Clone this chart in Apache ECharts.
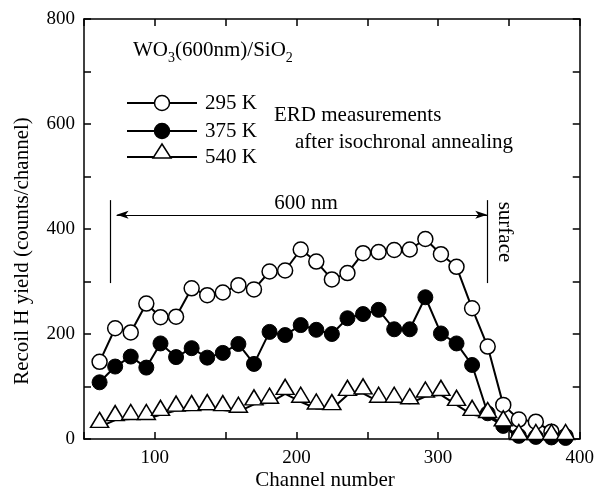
<!DOCTYPE html>
<html>
<head>
<meta charset="utf-8">
<script src="https://cdn.jsdelivr.net/npm/echarts@6.0.0/dist/echarts.min.js"></script>
<style>
  html, body { margin: 0; padding: 0; background: #fff; }
  #chart { width: 597px; height: 489px; }
</style>
</head>
<body>
<div id="chart"></div>
<script>
// Channel positions of the ERD spectrum points
const channels = [61, 72, 83, 94, 104, 115, 126, 137, 148, 159, 170, 181, 192, 203, 214, 225,
                  236, 247, 258, 269, 280, 291, 302, 313, 324, 335, 346, 357, 369, 380, 390];
// Recoil H yield (counts/channel) after annealing at each temperature
const yield295K = [147, 211, 203, 258, 232, 233, 287, 274, 279, 293, 285, 319, 321, 361, 338, 304,
                   316, 354, 356, 360, 361, 381, 352, 328, 249, 176, 65, 37, 33, 14, 5];
const yield375K = [108, 138, 157, 136, 182, 156, 173, 155, 164, 181, 143, 204, 198, 217, 208, 200,
                   230, 238, 246, 209, 209, 270, 201, 182, 141, 49, 25, 6, 4, 3, 2];
const yield540K = [23, 36, 38, 38, 46, 54, 55, 57, 55, 52, 66, 69, 86, 71, 58, 57,
                   84, 87, 71, 71, 68, 81, 84, 65, 46, 42, 26, 0, 0, 0, 0];
const seriesNames = ['295 K', '375 K', '540 K'];
const xTickLabels = [100, 200, 300, 400];
const yTickLabels = [0, 200, 400, 600, 800];
// Film thickness marker: surface and 600 nm depth
const depthEdges = [68.2, 334.7];
const depthArrowEnds = [73, 334.7];

const FONT = 'Liberation Serif';
const pairs = arr => channels.map((c, i) => [c, arr[i]]);

const axisLine = { onZero: false, lineStyle: { color: '#000', width: 1.5 } };
const axisTick = { inside: true, length: 7, lineStyle: { color: '#000', width: 1.5 } };

function xAxisDef(pos, withLabels) {
  return {
    type: 'value', position: pos, min: 50, max: 400, interval: 50,
    axisLine, axisTick,
    axisLabel: {
      show: withLabels, margin: 10, color: '#000', fontFamily: FONT, fontSize: 19,
      formatter: v => (xTickLabels.includes(v) ? String(v) : '')
    },
    splitLine: { show: false }
  };
}
function yAxisDef(pos, withLabels) {
  return {
    type: 'value', position: pos, min: 0, max: 800, interval: 100,
    axisLine, axisTick,
    axisLabel: {
      show: withLabels, margin: 9, color: '#000', fontFamily: FONT, fontSize: 19,
      formatter: v => (yTickLabels.includes(v) ? String(v) : '')
    },
    splitLine: { show: false }
  };
}

const lineBase = {
  type: 'line', silent: true, z: 3,
  lineStyle: { color: '#000', width: 2 },
  emphasis: { disabled: true }
};

const series = [
  Object.assign({}, lineBase, {
    name: seriesNames[0], data: pairs(yield295K),
    symbol: 'circle', symbolSize: 15,
    itemStyle: { color: '#fff', borderColor: '#000', borderWidth: 1.5 }
  }),
  Object.assign({}, lineBase, {
    name: seriesNames[1], data: pairs(yield375K),
    symbol: 'circle', symbolSize: 15,
    itemStyle: { color: '#000', borderColor: '#000', borderWidth: 1 }
  }),
  Object.assign({}, lineBase, {
    name: seriesNames[2], data: pairs(yield540K),
    symbol: 'triangle', symbolSize: [18, 15], symbolOffset: [0, -7],
    itemStyle: { color: '#fff', borderColor: '#000', borderWidth: 1.5 }
  }),
  {
    type: 'line', data: [], silent: true,
    markLine: {
      silent: true, symbol: 'none', animation: false,
      label: { show: false },
      lineStyle: { color: '#000', width: 1.2, type: 'solid' },
      data: depthEdges.map(ch => [{ coord: [ch, 297] }, { coord: [ch, 455] }])
    }
  },
  {
    type: 'line', data: [], silent: true,
    markLine: {
      silent: true, symbol: ['arrow', 'arrow'], symbolSize: [6, 12], animation: false,
      label: { show: false },
      lineStyle: { color: '#000', width: 1.2, type: 'solid' },
      data: [[{ coord: [depthArrowEnds[0], 427] }, { coord: [depthArrowEnds[1], 427] }]]
    }
  }
];

// Legend swatches: line with the series symbol in the middle
const legendRowsY = [103, 131, 157];
const legendGraphics = [];
legendRowsY.forEach((y, i) => {
  legendGraphics.push({
    type: 'line', shape: { x1: 127, y1: y, x2: 197, y2: y },
    style: { stroke: '#000', lineWidth: 2 }
  });
  if (i < 2) {
    legendGraphics.push({
      type: 'circle', shape: { cx: 162, cy: y, r: 7.5 },
      style: { fill: i === 0 ? '#fff' : '#000', stroke: '#000', lineWidth: 1.5 }
    });
  } else {
    legendGraphics.push({
      type: 'polygon', shape: { points: [[162, y - 13], [171, y + 1], [153, y + 1]] },
      style: { fill: '#fff', stroke: '#000', lineWidth: 1.5 }
    });
  }
  legendGraphics.push({
    type: 'text', x: 205, y: y,
    style: { text: seriesNames[i], fontFamily: FONT, fontSize: 21, fill: '#000',
             align: 'left', verticalAlign: 'middle' }
  });
});

const textStyle = (text, extra) => Object.assign(
  { text, fontFamily: FONT, fontSize: 21, fill: '#000', align: 'left', verticalAlign: 'middle' },
  extra || {}
);

const annotations = [
  {
    type: 'text', x: 133, y: 50,
    style: textStyle('{n|WO}{s|3}{n|(600nm)/SiO}{s|2}', {
      rich: {
        n: { fontFamily: FONT, fontSize: 21, lineHeight: 30, verticalAlign: 'middle', fill: '#000' },
        s: { fontFamily: FONT, fontSize: 14, lineHeight: 16, verticalAlign: 'bottom', fill: '#000' }
      }
    })
  },
  { type: 'text', x: 274, y: 115, style: textStyle('ERD measurements') },
  { type: 'text', x: 295, y: 142, style: textStyle('after isochronal annealing') },
  { type: 'text', x: 306, y: 203, style: textStyle('600 nm', { align: 'center' }) },
  { type: 'text', x: 505, y: 232, rotation: -Math.PI / 2,
    style: textStyle('surface', { align: 'center' }) },
  { type: 'text', x: 22, y: 251, rotation: Math.PI / 2,
    style: textStyle('Recoil H yield (counts/channel)', { align: 'center' }) },
  { type: 'text', x: 325, y: 480, style: textStyle('Channel number', { align: 'center' }) }
];

const chart = echarts.init(document.getElementById('chart'), null, { renderer: 'canvas' });
chart.setOption({
  backgroundColor: '#fff',
  animation: false,
  grid: { left: 84, right: 13, top: 19, bottom: 50 },
  xAxis: [xAxisDef('bottom', true), xAxisDef('top', false)],
  yAxis: [yAxisDef('left', true), yAxisDef('right', false)],
  series,
  graphic: legendGraphics.concat(annotations)
});
</script>
</body>
</html>
